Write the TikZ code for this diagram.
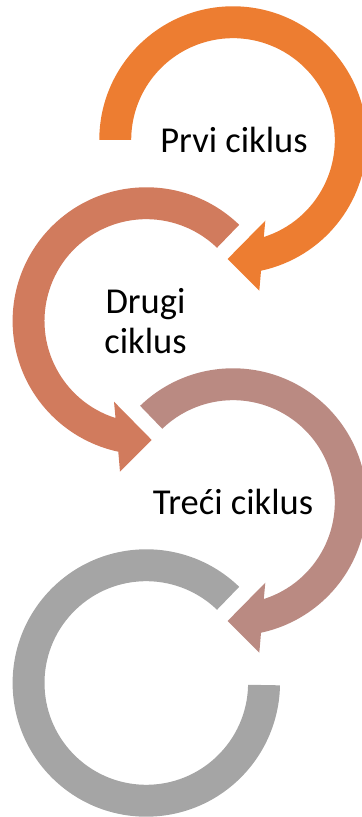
\documentclass[tikz,border=0pt]{standalone}
\usepackage{fontspec}
\setmainfont{Carlito}
\definecolor{cOne}{HTML}{ED7D31}
\definecolor{cTwo}{HTML}{D17B5D}
\definecolor{cThree}{HTML}{BA8A82}
\definecolor{cFour}{HTML}{A5A5A5}
\begin{document}
\begin{tikzpicture}[x=0.5pt,y=0.5pt,
  lbl/.style={font=\fontsize{18.25pt}{20pt}\selectfont, text=black, align=center, inner sep=0pt}]
\def\Ro{133.7}
\def\Ri{101.8}
\useasboundingbox (0,0) rectangle (362,817);
% circle 1 (mirrored, starts at 9 o'clock)
\begin{scope}[shift={(233,677)}, xscale=-1]
\fill[cOne] (0:\Ro) arc[start angle=0,end angle=257.9,radius=\Ro]
  -- (-26.3,-150.7) -- (5.4,-119) -- (-32.3,-80.7) -- (252.4:\Ri)
  arc[start angle=252.4,end angle=0,radius=\Ri] -- cycle;
\end{scope}
% circle 2
\begin{scope}[shift={(146.3,496)}]
\fill[cTwo] (46:\Ro) arc[start angle=46,end angle=257.9,radius=\Ro]
  -- (-26.3,-150.7) -- (5.4,-119) -- (-32.3,-80.7) -- (252.4:\Ri)
  arc[start angle=252.4,end angle=46,radius=\Ri] -- cycle;
\end{scope}
% circle 3 (mirrored)
\begin{scope}[shift={(233,315)}, xscale=-1]
\fill[cThree] (46:\Ro) arc[start angle=46,end angle=257.9,radius=\Ro]
  -- (-26.3,-150.7) -- (5.4,-119) -- (-32.3,-80.7) -- (252.4:\Ri)
  arc[start angle=252.4,end angle=46,radius=\Ri] -- cycle;
\end{scope}
% circle 4 (no head)
\begin{scope}[shift={(146.3,134)}]
\fill[cFour] (46:\Ro) arc[start angle=46,end angle=359,radius=\Ro]
  -- (359:\Ri) arc[start angle=359,end angle=46,radius=\Ri] -- cycle;
\end{scope}
\node[lbl, anchor=base] (t1) at (234,664) {Prvi ciklus};
\node[lbl] (t2) at (145.5,496) {Drugi\\ciklus};
\node[lbl, anchor=base] (t3) at (233,302) {Treći ciklus};
\end{tikzpicture}
\end{document}
